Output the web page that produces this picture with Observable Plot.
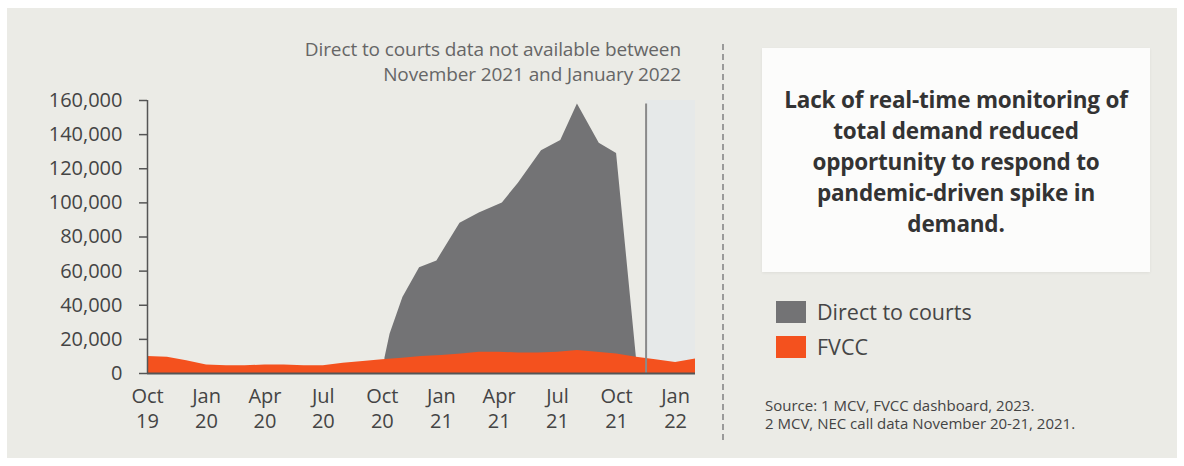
<!DOCTYPE html>
<html><head><meta charset="utf-8">
<script src="https://cdn.jsdelivr.net/npm/d3@7"></script>
<script src="https://cdn.jsdelivr.net/npm/@observablehq/plot@0.6"></script>
<style>
html,body{margin:0;padding:0;background:#ffffff;}
#wrap{position:relative;width:1184px;height:466px;overflow:hidden;background:#ffffff;font-family:"Open Sans","Noto Sans",sans-serif;}
#panel{position:absolute;left:7px;top:8px;width:1170px;height:450px;background:#ebebe6;}
#chart{position:absolute;left:0;top:0;}
#note{position:absolute;left:0;top:37px;width:681px;text-align:right;font-size:19px;line-height:25px;color:#666;letter-spacing:-0.1px;}
#sep{position:absolute;left:722px;top:44px;height:396px;border-left:2px dashed #9a9a9a;}
#box{position:absolute;left:762px;top:48px;width:388px;height:224px;background:#fcfcfb;box-shadow:0 1px 3px rgba(0,0,0,0.06);}
#boxtext{position:absolute;left:762px;top:84px;width:388px;text-align:center;font-size:22.5px;font-weight:700;line-height:31px;color:#333;letter-spacing:-0.2px;}
#legend{position:absolute;left:776px;top:294px;font-size:21.5px;color:#454545;}
.li{display:flex;align-items:center;height:35px;}
.sw{width:30px;height:22px;margin-right:11px;}
#source{position:absolute;left:765px;top:396px;font-size:15px;line-height:18px;color:#444;}
</style></head>
<body><div id="wrap"><div id="panel"></div><div id="chart"></div>
<div id="note">Direct to courts data not available between<br>November 2021 and January 2022</div>
<div id="sep"></div>
<div id="box"></div>
<div id="boxtext">Lack of real-time monitoring of<br>total demand reduced<br>opportunity to respond to<br>pandemic-driven spike in<br>demand.</div>
<div id="legend"></div>
<div id="source">Source: 1 MCV, FVCC dashboard, 2023.<br>2 MCV, NEC call data November 20-21, 2021.</div>
</div>
<script>
// FVCC monthly values
const fvccMonths = ["2019-10-01","2019-11-01","2019-12-01","2020-01-01","2020-02-01","2020-03-01","2020-04-01","2020-05-01","2020-06-01","2020-07-01","2020-08-01","2020-09-01","2020-10-01","2020-11-01","2020-12-01","2021-01-01","2021-02-01","2021-03-01","2021-04-01","2021-05-01","2021-06-01","2021-07-01","2021-08-01","2021-09-01","2021-10-01","2021-11-01","2021-12-01","2022-01-01","2022-02-01"];
const fvccValues = [10000,9500,7500,5000,4500,4500,5000,5000,4500,4500,6000,7000,8000,9000,10000,10500,11500,12500,12500,12000,12000,12500,13500,12500,11500,9500,8000,6500,8500];
// Direct to courts values
const dtcDates = ["2020-10-05","2020-10-13","2020-11-02","2020-11-28","2020-12-25","2021-01-30","2021-03-01","2021-04-06","2021-05-01","2021-06-06","2021-07-06","2021-08-01","2021-09-04","2021-10-01","2021-11-01"];
const dtcValues = [9000,23000,44500,62000,66000,88000,94000,100000,111500,130500,136500,158000,135000,129000,9000];
// Gap marker (data not available)
const gapStart = "2021-11-16";
const gapEnd = "2022-02-01";
const gapTop = 158000;
// Axes
const xTicks = ["2019-10-01","2020-01-01","2020-04-01","2020-07-01","2020-10-01","2021-01-01","2021-04-01","2021-07-01","2021-10-01","2022-01-01"];
const yTicks = [0,20000,40000,60000,80000,100000,120000,140000,160000];
const seriesNames = ["Direct to courts","FVCC"];
const seriesColors = ["#737375","#f4511e"];

const fvcc = fvccMonths.map((d,i)=>({date:new Date(d),value:fvccValues[i]}));
const dtc = dtcDates.map((d,i)=>({date:new Date(d),value:dtcValues[i]}));
const fmtX = d3.utcFormat("%b\n%y");

const chart = Plot.plot({
  width: 720, height: 445,
  marginLeft: 147, marginRight: 25, marginTop: 100, marginBottom: 72,
  style: {background:"transparent", fontFamily:"'Open Sans', sans-serif", color:"#444"},
  x: {type:"utc", domain:[new Date(fvccMonths[0]), new Date(gapEnd)]},
  y: {domain:[0,160000]},
  marks: [
    Plot.rect([0], {x1:()=>new Date(gapStart), x2:()=>new Date(gapEnd), y1:0, y2:160000, fill:"#e6e9e9"}),
    Plot.areaY(dtc, {x:"date", y:"value", fill:seriesColors[0]}),
    Plot.areaY(fvcc, {x:"date", y:"value", fill:seriesColors[1]}),
    Plot.ruleX([new Date(gapStart)], {y1:0, y2:gapTop, stroke:"#8a8a8a", strokeWidth:2}),
    Plot.axisY({ticks:yTicks, tickFormat:d3.format(","), tickSize:8, tickPadding:17, fontSize:20, stroke:"#555", strokeWidth:1.5, label:null}),
    Plot.axisX({ticks:xTicks.map(d=>new Date(d)), tickFormat:fmtX, tickSize:0, tickPadding:12, fontSize:20, lineHeight:1.25, label:null}),
    Plot.ruleX([new Date(fvccMonths[0])], {y1:0, y2:160000, stroke:"#555", strokeWidth:1.5}),
    Plot.ruleY([0], {stroke:"#555", strokeWidth:2})
  ]
});
document.getElementById("chart").appendChild(chart);

const leg = document.getElementById("legend");
seriesNames.forEach((n,i)=>{
  const row = document.createElement("div"); row.className="li";
  const sw = document.createElement("div"); sw.className="sw"; sw.style.background=seriesColors[i];
  const t = document.createElement("span"); t.textContent=n;
  row.appendChild(sw); row.appendChild(t); leg.appendChild(row);
});
</script>
</body></html>
